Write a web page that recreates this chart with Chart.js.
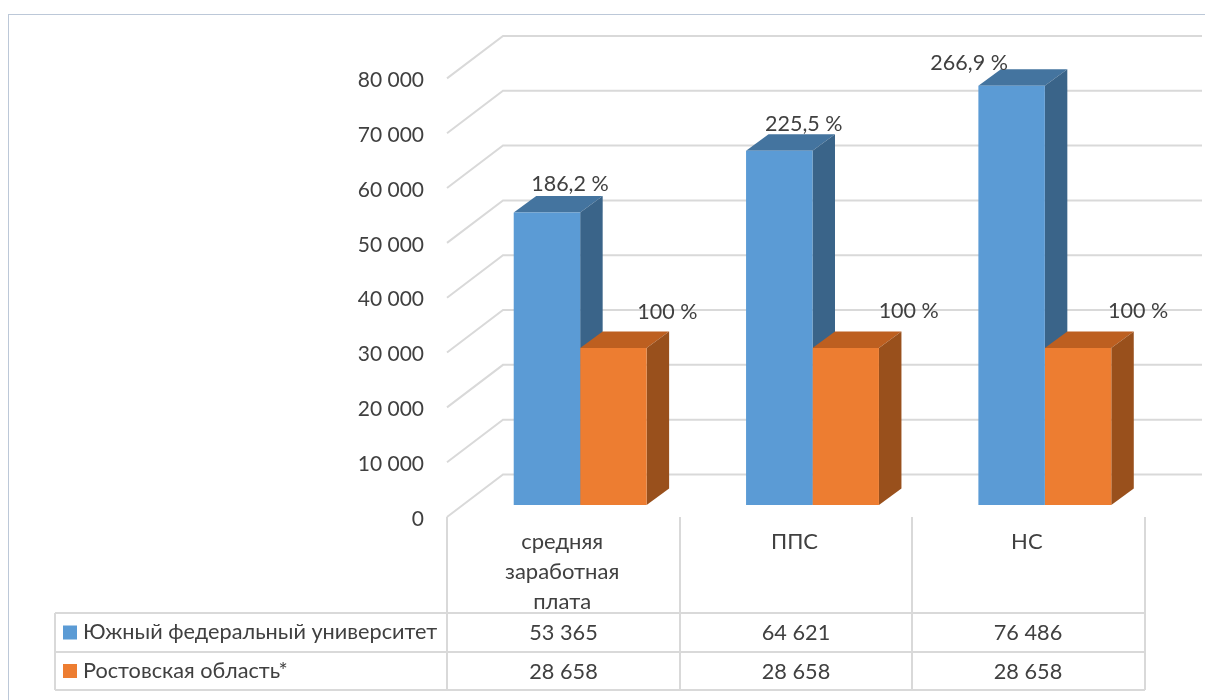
<!DOCTYPE html>
<html>
<head>
<meta charset="utf-8">
<title>Заработная плата</title>
<script src="https://cdn.jsdelivr.net/npm/chart.js@4/dist/chart.umd.min.js"></script>
<style>
    body { margin: 0; background: #fff; }
    #frame {
        position: absolute; left: 8px; top: 14px; right: 0; bottom: 0;
        border-left: 1px solid #bcc8d8; border-top: 1px solid #bcc8d8;
    }
    canvas { position: absolute; left: 0; top: 0; }
</style>
</head>
<body>
<div id="frame"></div>
<canvas id="salaryChart" width="1205" height="700"></canvas>
<script>
const categories = [["средняя", "заработная", "плата"], "ППС", "НС"];
const seriesNames = ["Южный федеральный университет", "Ростовская область*"];
const sfuValues = [53365, 64621, 76486];
const rostovValues = [28658, 28658, 28658];
const sfuTableText = ["53 365", "64 621", "76 486"];
const rostovTableText = ["28 658", "28 658", "28 658"];
const sfuPercent = ["186,2 %", "225,5 %", "266,9 %"];
const rostovPercent = ["100 %", "100 %", "100 %"];
const yTickLabels = ["0", "10 000", "20 000", "30 000", "40 000", "50 000", "60 000", "70 000", "80 000"];

const FONT = "Lato";
const TEXT = "#404040";
const GRID = "#d9d9d9";
const colors = [
    { front: "#5b9bd5", top: "#44749f", side: "#3a6489" },
    { front: "#ed7d31", top: "#bd5f20", side: "#99501c" }
];
// depth of a bar, and of the floor
const barDx = 22.5, barDy = -16.5;
const wallX = 503, wallRight = 1202, floorFront = 12, floorBack = -30.5;
const tableLeft = 55, tableAxis = 447, tableRight = 1145, tableTop = 517;
const rowLines = [613, 652, 690];
const columnCenters = [563.5, 796, 1028];
// where each percent label sits relative to the top of its bar
const labelShift = [
    [[23, -28], [24.5, -27], [-42.5, -23]],
    [[54, -36], [63, -37], [60, -37]]
];

function line(ctx, points) {
    ctx.beginPath();
    points.forEach((p, i) => i ? ctx.lineTo(p[0], p[1]) : ctx.moveTo(p[0], p[1]));
    ctx.stroke();
}

function poly(ctx, points, fill) {
    ctx.fillStyle = fill;
    ctx.beginPath();
    points.forEach((p, i) => i ? ctx.lineTo(p[0], p[1]) : ctx.moveTo(p[0], p[1]));
    ctx.closePath();
    ctx.fill();
}

const box3d = {
    id: "box3d",
    beforeDatasetsDraw(chart) {
        const ctx = chart.ctx;
        const yScale = chart.scales.y;
        ctx.save();
        ctx.strokeStyle = GRID;
        ctx.lineWidth = 2;
        yScale.ticks.forEach(t => {
            const y = yScale.getPixelForValue(t.value);
            line(ctx, [[tableAxis, y + floorFront], [wallX, y + floorBack], [wallRight, y + floorBack]]);
        });
        // tops and sides; the fronts are the library's own bars
        chart.data.datasets.forEach((ds, d) => {
            chart.getDatasetMeta(d).data.forEach(bar => {
                const l = bar.x - bar.width / 2, r = bar.x + bar.width / 2;
                poly(ctx, [[l, bar.y], [l + barDx, bar.y + barDy], [r + barDx, bar.y + barDy], [r, bar.y]], colors[d].top);
                poly(ctx, [[r, bar.y], [r + barDx, bar.y + barDy], [r + barDx, bar.base + barDy], [r, bar.base]], colors[d].side);
            });
        });
        ctx.restore();
    },
    afterDatasetsDraw(chart) {
        const ctx = chart.ctx;
        ctx.save();
        ctx.font = "21.5px " + FONT;
        ctx.fillStyle = TEXT;
        ctx.textAlign = "center";
        ctx.textBaseline = "middle";
        [sfuPercent, rostovPercent].forEach((labels, d) => {
            chart.getDatasetMeta(d).data.forEach((bar, i) => {
                ctx.fillText(labels[i], bar.x + labelShift[d][i][0], bar.y + labelShift[d][i][1]);
            });
        });
        ctx.restore();
    },
    afterDraw(chart) {
        const ctx = chart.ctx;
        ctx.save();
        ctx.strokeStyle = GRID;
        ctx.lineWidth = 2;
        rowLines.forEach(y => line(ctx, [[tableLeft, y], [tableRight, y]]));
        line(ctx, [[tableLeft, rowLines[0]], [tableLeft, rowLines[2]]]);
        [tableAxis, 680, 912, tableRight].forEach(x => line(ctx, [[x, tableTop], [x, rowLines[2]]]));

        ctx.font = "21.7px " + FONT;
        ctx.fillStyle = TEXT;
        ctx.textBaseline = "middle";
        [sfuTableText, rostovTableText].forEach((row, r) => {
            const y = (rowLines[r] + rowLines[r + 1]) / 2;
            ctx.textAlign = "center";
            row.forEach((txt, i) => ctx.fillText(txt, columnCenters[i], y + 1));
            ctx.textAlign = "left";
            ctx.fillText(seriesNames[r], 83, y);
            ctx.fillStyle = colors[r].front;
            ctx.fillRect(63, y - 7, 14, 14);
            ctx.fillStyle = TEXT;
        });
        ctx.restore();
    }
};

new Chart(document.getElementById("salaryChart"), {
    type: "bar",
    data: {
        labels: categories,
        datasets: [
            { label: seriesNames[0], data: sfuValues, backgroundColor: colors[0].front },
            { label: seriesNames[1], data: rostovValues, backgroundColor: colors[1].front }
        ]
    },
    options: {
        responsive: false,
        animation: false,
        categoryPercentage: 0.572,
        barPercentage: 1,
        layout: { padding: { top: 66.4, right: 44, bottom: 0, left: 0 } },
        plugins: { legend: { display: false }, tooltip: { enabled: false } },
        scales: {
            x: {
                grid: { display: false },
                border: { display: false },
                ticks: {
                    color: TEXT,
                    font: { family: FONT, size: 22, lineHeight: 1.36 },
                    padding: 14,
                    labelOffset: -18,
                    maxRotation: 0,
                    autoSkip: false
                },
                afterFit(scale) { scale.height = 195; }
            },
            y: {
                min: 0,
                max: 80000,
                grid: { display: false },
                border: { display: false },
                ticks: {
                    stepSize: 10000,
                    color: TEXT,
                    font: { family: FONT, size: 21 },
                    padding: 32,
                    labelOffset: 14,
                    callback: (value) => yTickLabels[value / 10000]
                },
                afterFit(scale) { scale.width = 464; }
            }
        }
    },
    plugins: [box3d]
});
</script>
</body>
</html>
